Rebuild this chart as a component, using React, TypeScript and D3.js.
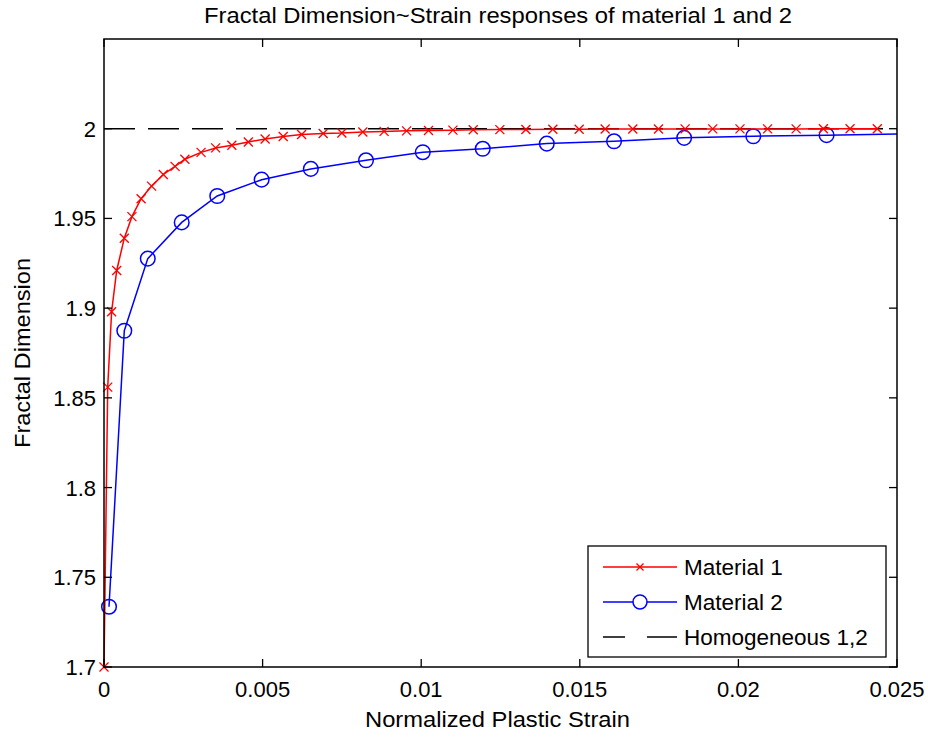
import React, { useEffect, useRef } from "react";
import * as d3 from "d3";

// Material 1 response (strain, fractal dimension)
const material1Strain = [
  0, 0.000117, 0.00024, 0.0004, 0.00064, 0.00088, 0.00117, 0.0015, 0.00187, 0.00224,
  0.00255, 0.00306, 0.00352, 0.00403, 0.00455, 0.00508, 0.00565, 0.00623, 0.00691, 0.0075,
  0.00816, 0.00883, 0.00954, 0.01023, 0.011, 0.01164, 0.01248, 0.0133, 0.01415, 0.01498,
  0.0158, 0.01667, 0.01748, 0.01832, 0.01919, 0.02005, 0.02092, 0.02182, 0.02268, 0.02352,
  0.02438,
];
const material1Dim = [
  1.7, 1.856, 1.898, 1.921, 1.939, 1.951, 1.961, 1.968, 1.9745, 1.979,
  1.983, 1.9868, 1.9893, 1.9908, 1.9926, 1.9943, 1.9957, 1.9968, 1.9973, 1.9976,
  1.9982, 1.9985, 1.9988, 1.999, 1.9992, 1.9994, 1.9995, 1.9996, 1.9997, 1.9997,
  1.9998, 1.9998, 1.9998, 1.9999, 1.9999, 1.9999, 1.9999, 1.9999, 2.0, 2.0,
  2.0,
];

// Material 2 response; the last sample closes the curve at the axis end and carries no marker
const material2Strain = [
  0.000158, 0.00064, 0.00138, 0.00245, 0.00357, 0.00497, 0.00652, 0.00826, 0.01005, 0.01194,
  0.01396, 0.01608, 0.01829, 0.02047, 0.02278, 0.025,
];
const material2Dim = [
  1.7336, 1.8874, 1.9276, 1.9478, 1.9625, 1.9716, 1.9776, 1.9824, 1.9869, 1.9888,
  1.9917, 1.993, 1.9949, 1.9958, 1.9964, 1.997,
];

// Homogeneous reference level
const homogeneousStrain = [0, 0.025];
const homogeneousDim = [2.0, 2.0];

const xTickValues = [0, 0.005, 0.01, 0.015, 0.02, 0.025];
const xTickLabels = ["0", "0.005", "0.01", "0.015", "0.02", "0.025"];
const yTickValues = [1.7, 1.75, 1.8, 1.85, 1.9, 1.95, 2.0];
const yTickLabels = ["1.7", "1.75", "1.8", "1.85", "1.9", "1.95", "2"];

const legendLabels = ["Material 1", "Material 2", "Homogeneous 1,2"];

const W = 928;
const H = 743;
const FONT = "Arial, 'Liberation Sans', Helvetica, sans-serif";

export default function App() {
  const ref = useRef<SVGSVGElement | null>(null);

  useEffect(() => {
    const svg = d3.select(ref.current);
    svg.selectAll("*").remove();

    const left = 104, right = 897, top = 39, bottom = 667;
    const x = d3.scaleLinear().domain([0, 0.025]).range([left, right]);
    const y = d3.scaleLinear().domain([1.7, 2.05]).range([bottom, top]);

    svg.append("rect").attr("width", W).attr("height", H).attr("fill", "#fff");

    const clip = svg.append("defs").append("clipPath").attr("id", "plotclip");
    clip.append("rect").attr("x", left).attr("y", top - 10).attr("width", right - left).attr("height", bottom - top + 10);

    const line = d3.line<[number, number]>().x((d) => x(d[0])).y((d) => y(d[1]));

    const m1: [number, number][] = material1Strain.map((s, i) => [s, material1Dim[i]]);
    const m2: [number, number][] = material2Strain.map((s, i) => [s, material2Dim[i]]);
    const hom: [number, number][] = homogeneousStrain.map((s, i) => [s, homogeneousDim[i]]);

    const plot = svg.append("g");

    // homogeneous dashed line
    plot.append("path").attr("d", line(hom)).attr("fill", "none").attr("stroke", "#000")
      .attr("stroke-width", 1.5).attr("stroke-dasharray", "31 13");

    // material 2 (blue, circles)
    plot.append("path").attr("d", line(m2)).attr("fill", "none").attr("stroke", "#0000ff").attr("stroke-width", 1.5);
    plot.selectAll("circle.m2").data(m2.slice(0, m2.length - 1)).enter().append("circle")
      .attr("cx", (d) => x(d[0])).attr("cy", (d) => y(d[1])).attr("r", 7.3)
      .attr("fill", "none").attr("stroke", "#0000ff").attr("stroke-width", 1.5);

    // material 1 (red, crosses)
    plot.append("path").attr("d", line(m1)).attr("fill", "none").attr("stroke", "#ff0000").attr("stroke-width", 1.5);
    const cross = (cx: number, cy: number, s: number) =>
      `M${cx - s},${cy - s}L${cx + s},${cy + s}M${cx - s},${cy + s}L${cx + s},${cy - s}`;
    plot.selectAll("path.m1").data(m1).enter().append("path")
      .attr("d", (d) => cross(x(d[0]), y(d[1]), 4.5))
      .attr("stroke", "#ff0000").attr("stroke-width", 1.3).attr("fill", "none");

    // frame
    svg.append("rect").attr("x", left).attr("y", top).attr("width", right - left).attr("height", bottom - top)
      .attr("fill", "none").attr("stroke", "#000").attr("stroke-width", 1.5);

    const tl = 8;
    const ticks = svg.append("g").attr("stroke", "#000").attr("stroke-width", 1.3);
    xTickValues.forEach((v) => {
      ticks.append("line").attr("x1", x(v)).attr("x2", x(v)).attr("y1", bottom).attr("y2", bottom - tl);
      ticks.append("line").attr("x1", x(v)).attr("x2", x(v)).attr("y1", top).attr("y2", top + tl);
    });
    yTickValues.forEach((v) => {
      ticks.append("line").attr("x1", left).attr("x2", left + tl).attr("y1", y(v)).attr("y2", y(v));
      ticks.append("line").attr("x1", right).attr("x2", right - tl).attr("y1", y(v)).attr("y2", y(v));
    });

    const text = svg.append("g").attr("font-family", FONT).attr("fill", "#000");
    xTickValues.forEach((v, i) => {
      text.append("text").attr("x", x(v)).attr("y", bottom + 30).attr("text-anchor", "middle")
        .attr("font-size", 22).text(xTickLabels[i]);
    });
    yTickValues.forEach((v, i) => {
      text.append("text").attr("x", left - 8).attr("y", y(v) + 8).attr("text-anchor", "end")
        .attr("font-size", 22).text(yTickLabels[i]);
    });

    text.append("text").attr("x", (left + right) / 2 - 3).attr("y", 727).attr("text-anchor", "middle")
      .attr("font-size", 22).attr("textLength", 265).attr("lengthAdjust", "spacingAndGlyphs")
      .text("Normalized Plastic Strain");
    text.append("text").attr("transform", `translate(30,${(top + bottom) / 2}) rotate(-90)`)
      .attr("text-anchor", "middle").attr("font-size", 22).attr("textLength", 190)
      .attr("lengthAdjust", "spacingAndGlyphs").text("Fractal Dimension");
    text.append("text").attr("x", 498).attr("y", 23).attr("text-anchor", "middle")
      .attr("font-size", 22).attr("textLength", 588).attr("lengthAdjust", "spacingAndGlyphs")
      .text("Fractal Dimension~Strain responses of material 1 and 2");

    // legend
    const lg = svg.append("g");
    lg.append("rect").attr("x", 588).attr("y", 546).attr("width", 298).attr("height", 111)
      .attr("fill", "#fff").attr("stroke", "#000").attr("stroke-width", 1.3);
    const rows = [567, 602, 637];
    const lx1 = 603, lx2 = 677, lmid = 640;
    lg.append("line").attr("x1", lx1).attr("x2", lx2).attr("y1", rows[0]).attr("y2", rows[0])
      .attr("stroke", "#ff0000").attr("stroke-width", 1.5);
    lg.append("path").attr("d", cross(lmid, rows[0], 3.5)).attr("stroke", "#ff0000").attr("stroke-width", 1.3);
    lg.append("line").attr("x1", lx1).attr("x2", lx2).attr("y1", rows[1]).attr("y2", rows[1])
      .attr("stroke", "#0000ff").attr("stroke-width", 1.5);
    lg.append("circle").attr("cx", lmid).attr("cy", rows[1]).attr("r", 7).attr("fill", "#fff")
      .attr("stroke", "#0000ff").attr("stroke-width", 1.5);
    lg.append("line").attr("x1", lx1).attr("x2", lx2).attr("y1", rows[2]).attr("y2", rows[2])
      .attr("stroke", "#000").attr("stroke-width", 1.5).attr("stroke-dasharray", "22 22 30 22");
    legendLabels.forEach((t, i) => {
      lg.append("text").attr("x", 684).attr("y", rows[i] + 8).attr("font-family", FONT)
        .attr("font-size", 22.5).text(t);
    });
  }, []);

  return (
    <svg
      ref={ref}
      width={W}
      height={H}
      style={{ position: "absolute", left: 0, top: 0, display: "block", background: "#fff" }}
    />
  );
}
